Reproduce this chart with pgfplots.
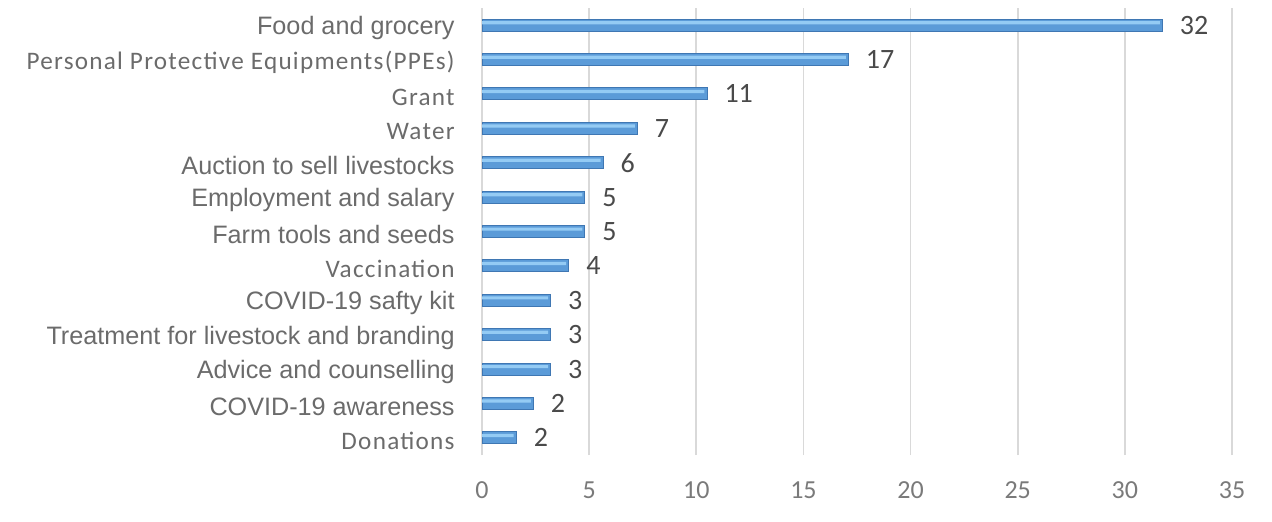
\documentclass[border=0pt]{standalone}
\usepackage{fontspec}
\setmainfont{Liberation Sans}
\newfontfamily\calib{Carlito}
\newfontfamily\calibsp[LetterSpace=5]{Carlito}
\usepackage{pgfplots}
\usepackage{pgfplotstable}
\pgfplotsset{compat=1.18}

\definecolor{labgray}{HTML}{6B6B6B}
\definecolor{tickgray}{HTML}{7A7A7A}
\definecolor{valgray}{HTML}{4A4A4A}
\definecolor{gridgray}{HTML}{D9D9D9}
\definecolor{barbase}{HTML}{5B9BD8}
\definecolor{barlight}{HTML}{94CBF4}
\definecolor{baredge}{HTML}{3F77B3}

% y = row (1 at bottom), v = bar length, lab = printed value
\pgfplotstableread{
y  v     lab
13 31.75 32
12 17.1  17
11 10.5  11
10 7.25  7
9  5.65  6
8  4.8   5
7  4.8   5
6  4.05  4
5  3.2   3
4  3.2   3
3  3.2   3
2  2.4   2
1  1.6   2
}\datatable

\begin{document}
\begin{tikzpicture}
\useasboundingbox (0,0) rectangle (636pt,260.5pt);
\begin{axis}[
    at={(241pt,33pt)}, anchor=south west,
    scale only axis,
    width=375pt, height=223.5pt,
    xmin=0, xmax=35,
    ymin=0.5, ymax=13.5,
    xtick={0,5,...,35},
    ytick={1,...,13},
    yticklabels={
        {\calibsp Donations},
        COVID-19 awareness,
        Advice and counselling,
        Treatment for livestock and branding,
        COVID-19 safty kit,
        {\calibsp Vaccination},
        Farm tools and seeds,
        Employment and salary,
        Auction to sell livestocks,
        {\calibsp Water},
        {\calibsp Grant},
        {\calibsp Personal Protective Equipments(PPEs)},
        Food and grocery},
    major tick length=0pt,
    axis line style={draw=none},
    xmajorgrids,
    grid style={gridgray, line width=0.9pt},
    yticklabel style={font=\fontsize{12.6}{14}\selectfont, text=labgray, inner sep=0pt, anchor=east, yshift=-1.5pt},
    yticklabel shift=13.5pt,
    xticklabel style={font=\calib\fontsize{13}{15}\selectfont, text=tickgray, inner sep=0pt},
    /pgf/number format/assume math mode=true,
    xticklabel shift=13pt,
    xbar,
    point meta=explicit symbolic,
    clip=false,
]
% base bar with dark outline
\addplot[draw=baredge, line width=0.5pt, fill=barbase, bar width=6pt, bar shift=0pt,
    nodes near coords,
    nodes near coords style={font=\calib\fontsize{14}{16}\selectfont, text=valgray, inner sep=0pt, anchor=west, xshift=8.5pt}]
    table[x=v, y=y, meta=lab] {\datatable};
% light highlight stripe
\addplot[draw=none, fill=barlight, bar width=1.6pt, bar shift=1.2pt]
    table[x expr=\thisrow{v}-0.12, y=y] {\datatable};
\end{axis}
\end{tikzpicture}
\end{document}
